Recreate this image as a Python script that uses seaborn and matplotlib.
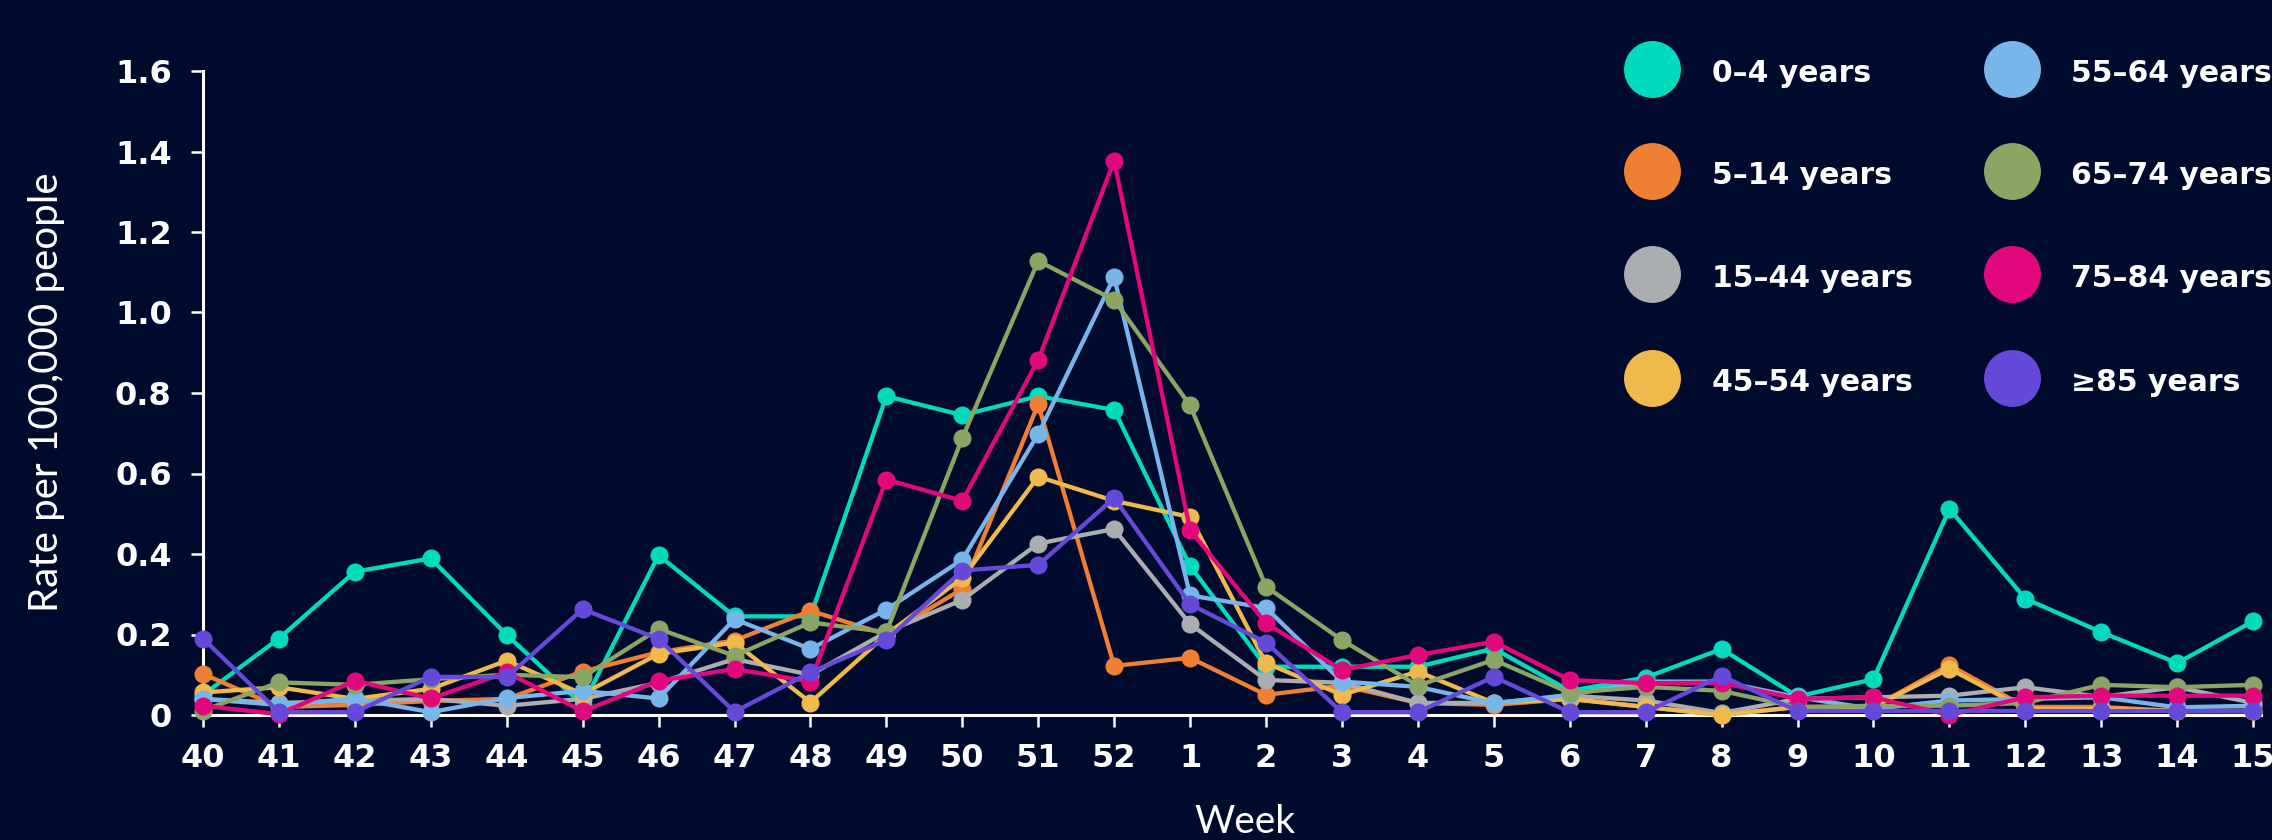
import matplotlib
matplotlib.use("Agg")
import matplotlib.pyplot as plt
from matplotlib.lines import Line2D
import pandas as pd
import seaborn as sns

# ---- data -----------------------------------------------------------------
weeks = ["40", "41", "42", "43", "44", "45", "46", "47", "48", "49", "50", "51", "52",
         "1", "2", "3", "4", "5", "6", "7", "8", "9", "10", "11", "12", "13", "14", "15"]

groups = ["0–4 years", "5–14 years", "15–44 years", "45–54 years",
          "55–64 years", "65–74 years", "75–84 years", "≥85 years"]

age_0_4 = [0.05, 0.19, 0.356, 0.389, 0.199, 0.025, 0.397, 0.245, 0.245, 0.792, 0.745, 0.792, 0.758,
           0.370, 0.12, 0.12, 0.12, 0.165, 0.06, 0.093, 0.164, 0.046, 0.089, 0.512, 0.289, 0.206, 0.129, 0.233]
age_5_14 = [0.102, 0.02, 0.025, 0.035, 0.04, 0.108, 0.156, 0.185, 0.259, 0.2, 0.313, 0.772, 0.122,
            0.142, 0.05, 0.073, 0.03, 0.025, 0.04, 0.02, 0.0, 0.02, 0.02, 0.124, 0.02, 0.02, 0.01, 0.01]
age_15_44 = [0.04, 0.03, 0.035, 0.04, 0.023, 0.04, 0.08, 0.139, 0.10, 0.206, 0.286, 0.426, 0.462,
             0.226, 0.087, 0.08, 0.03, 0.03, 0.048, 0.036, 0.005, 0.04, 0.044, 0.048, 0.069, 0.045, 0.069, 0.03]
age_45_54 = [0.056, 0.069, 0.04, 0.065, 0.135, 0.052, 0.152, 0.18, 0.031, 0.2, 0.34, 0.592, 0.532,
             0.492, 0.129, 0.05, 0.108, 0.03, 0.04, 0.02, 0.0, 0.02, 0.02, 0.115, 0.015, 0.015, 0.01, 0.01]
age_55_64 = [0.04, 0.025, 0.041, 0.007, 0.042, 0.06, 0.041, 0.238, 0.164, 0.262, 0.386, 0.698, 1.088,
             0.297, 0.266, 0.083, 0.07, 0.029, 0.05, 0.083, 0.083, 0.044, 0.015, 0.036, 0.04, 0.044, 0.019, 0.023]
age_65_74 = [0.011, 0.081, 0.075, 0.089, 0.1, 0.094, 0.214, 0.147, 0.23, 0.206, 0.688, 1.128, 1.031,
             0.769, 0.319, 0.186, 0.073, 0.137, 0.055, 0.07, 0.06, 0.019, 0.023, 0.023, 0.03, 0.075, 0.069, 0.075]
age_75_84 = [0.023, 0.002, 0.085, 0.041, 0.106, 0.009, 0.085, 0.114, 0.083, 0.585, 0.532, 0.882, 1.377,
             0.459, 0.228, 0.112, 0.149, 0.182, 0.087, 0.079, 0.08, 0.04, 0.044, 0.0, 0.044, 0.048, 0.048, 0.048]
age_85_plus = [0.19, 0.007, 0.007, 0.095, 0.094, 0.263, 0.189, 0.008, 0.106, 0.186, 0.359, 0.373, 0.539,
               0.275, 0.18, 0.007, 0.007, 0.095, 0.007, 0.007, 0.097, 0.01, 0.01, 0.01, 0.01, 0.01, 0.01, 0.01]

series = [age_0_4, age_5_14, age_15_44, age_45_54, age_55_64, age_65_74, age_75_84, age_85_plus]

y_ticks = [0, 0.2, 0.4, 0.6, 0.8, 1.0, 1.2, 1.4, 1.6]
y_tick_labels = ["0", "0.2", "0.4", "0.6", "0.8", "1.0", "1.2", "1.4", "1.6"]

# ---- style ----------------------------------------------------------------
BG = "#000a2d"
FG = "white"
colors = ["#00dbbd", "#ee7f33", "#aaaeb0", "#f0b94b",
          "#77b5ea", "#8ba664", "#e3077e", "#654ad9"]

sns.set_theme(style="white")
plt.rcParams["font.family"] = ["DejaVu Sans"]

W, H = 2272, 840
fig = plt.figure(figsize=(W / 100, H / 100), dpi=100, facecolor=BG)

x0_px, x_step = 203, 75.93
y0_px, y1_px = 715, 71
x_max = 27.1
ax = fig.add_axes([x0_px / W, 1 - y0_px / H, x_max * x_step / W, (y0_px - y1_px) / H])
ax.set_facecolor(BG)

# long-form table for seaborn
rows = []
for g, vals in zip(groups, series):
    for i, v in enumerate(vals):
        rows.append({"pos": i, "week": weeks[i], "group": g, "rate": v})
df = pd.DataFrame(rows)

sns.lineplot(data=df, x="pos", y="rate", hue="group", hue_order=groups,
             palette=colors, marker="o", markersize=13, markeredgewidth=0,
             linewidth=3.1, sort=False, legend=False, clip_on=False, ax=ax)

ax.set_xlim(0, x_max)
ax.set_ylim(0, 1.6)
ax.set_xticks(range(len(weeks)))
ax.set_xticklabels(weeks)
ax.set_yticks(y_ticks)
ax.set_yticklabels(y_tick_labels)
ax.set_xlabel("")
ax.set_ylabel("")

for side in ("top", "right"):
    ax.spines[side].set_visible(False)
for side in ("left", "bottom"):
    ax.spines[side].set_color(FG)
    ax.spines[side].set_linewidth(2.2)
    ax.spines[side].set_zorder(0.5)

ax.tick_params(axis="both", colors=FG, length=8.5, width=1.8, labelsize=23,
               direction="out", bottom=True, left=True)
ax.tick_params(axis="y", pad=14)
ax.tick_params(axis="x", pad=12)
for lab in ax.get_xticklabels() + ax.get_yticklabels():
    lab.set_fontweight("bold")
    lab.set_color(FG)

# axis titles
fig.text(47 / W, 1 - 392 / H, "Rate per 100,000 people", rotation=90,
         ha="center", va="center", color=FG, fontsize=29,
         family=["Lato", "DejaVu Sans"], fontweight="normal")
fig.text(1245 / W, 1 - 804 / H, "Week", ha="center", va="top", color=FG,
         fontsize=28, family=["Lato", "DejaVu Sans"], fontweight="normal")

# legend: two columns of four entries
col_circle_x = [1652, 2012]
col_text_x = [1712, 2071]
row_y = [68.6, 171, 274, 377.6]
for k, (g, c) in enumerate(zip(groups, colors)):
    col, row = divmod(k, 4)
    cy = row_y[row]
    fig.add_artist(Line2D([col_circle_x[col] / W], [1 - cy / H], marker="o",
                          markersize=41, markeredgewidth=0, color=c,
                          linestyle="none", transform=fig.transFigure))
    fig.text(col_text_x[col] / W, 1 - (cy + 13) / H, g, ha="left", va="baseline",
             color=FG, fontsize=21.5, fontweight="bold")

fig.savefig("out.png", dpi=100, facecolor=BG)
